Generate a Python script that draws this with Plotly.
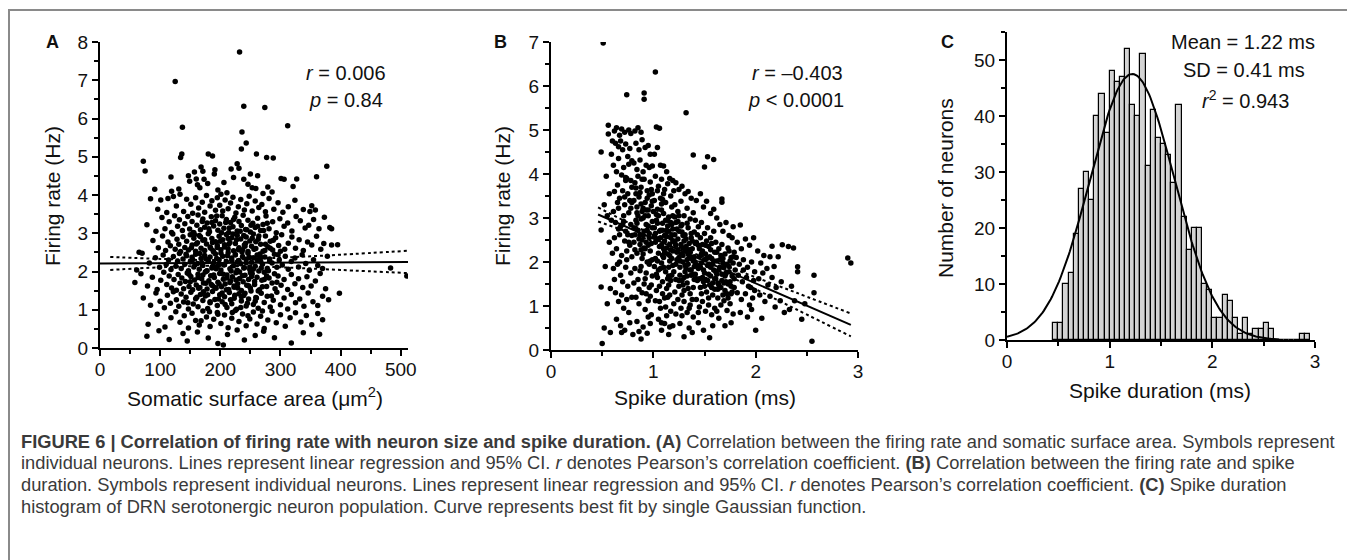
import numpy as np
import plotly.graph_objects as go

# ---------------- data ----------------
# Panel A: (somatic surface area um^2, firing rate Hz)
a_points = [
    (232,7.74),(125,6.97),(239,6.32),(274,6.29),(137,5.77),(312,5.81),(236,5.65),(243,5.36),(235,5.20),(260,5.07),
    (136,5.07),(134,4.98),(180,5.07),(187,5.02),(277,4.98),(288,4.97),(72,4.88),(75,4.63),(377,4.75),(360,4.48),
    (228,4.82),(231,4.70),(218,4.68),(168,4.73),(171,4.62),(157,4.60),(147,4.50),(191,4.66),(250,4.55),(262,4.50),
    (160,4.42),(91,4.15),(119,4.10),(131,4.16),(133,4.02),(149,4.36),(162,4.27),(166,4.19),(173,4.41),(179,4.30),
    (196,4.13),(201,4.02),(206,4.33),(222,4.46),(239,4.41),(246,4.28),(253,4.19),(259,4.17),(271,4.04),(279,4.21),
    (286,4.08),(301,4.43),(306,4.41),(321,4.22),(327,4.42),(211,4.06),(118,4.47),(190,4.55),
    (84,3.90),(101,3.87),(113,3.91),(96,3.63),(111,3.54),(122,3.96),(127,3.71),(139,3.57),(144,3.89),(151,3.76),
    (154,3.52),(159,3.93),(164,3.66),(170,3.81),(174,3.55),(177,3.99),(183,3.71),(186,3.85),(192,3.60),(195,3.93),
    (199,3.73),(204,3.58),(208,3.87),(213,3.64),(217,3.79),(221,3.94),(226,3.53),(230,3.69),(234,3.88),(240,3.61),
    (244,3.77),(248,3.97),(253,3.58),(258,3.84),(264,3.67),(269,3.75),(275,3.56),(281,3.91),(289,3.63),(296,3.80),
    (304,3.55),(313,3.69),(324,3.86),(338,3.62),(349,3.57),(358,3.61),(352,3.72),
    (78,3.22),(93,3.05),(103,3.41),(108,3.12),(115,3.30),(119,3.02),(124,3.46),(129,3.18),(132,3.35),(137,3.07),
    (141,3.25),(146,3.44),(149,3.11),(153,3.31),(156,3.01),(161,3.21),(163,3.48),(167,3.09),(171,3.37),(174,3.16),
    (178,3.27),(182,3.04),(185,3.43),(189,3.19),(192,3.33),(196,3.08),(199,3.24),(203,3.46),(206,3.13),(210,3.36),
    (214,3.02),(217,3.28),(221,3.17),(224,3.42),(228,3.06),(231,3.31),(235,3.20),(238,3.47),(242,3.10),(246,3.34),
    (250,3.03),(254,3.26),(258,3.15),(262,3.39),(267,3.07),(271,3.23),(276,3.45),(281,3.12),(287,3.30),(293,3.01),
    (299,3.38),(306,3.18),(312,3.27),(319,3.06),(326,3.44),(333,3.33),(341,3.14),(347,3.21),(355,3.36),(364,3.12),
    (373,3.42),(382,3.15),(385,3.12),
    (65,2.50),(88,2.81),(97,2.62),(104,2.93),(109,2.55),(113,2.77),(117,2.67),(121,2.98),(125,2.58),(128,2.84),
    (131,2.71),(134,2.52),(138,2.91),(141,2.63),(144,2.79),(147,2.56),(150,2.96),(153,2.69),(156,2.87),(159,2.53),
    (162,2.75),(165,2.94),(168,2.61),(171,2.82),(174,2.55),(177,2.72),(180,2.99),(183,2.64),(186,2.86),(189,2.51),
    (192,2.78),(195,2.68),(198,2.92),(201,2.57),(204,2.83),(207,2.70),(210,2.97),(213,2.59),(216,2.76),(219,2.88),
    (222,2.54),(225,2.73),(228,2.95),(231,2.62),(234,2.85),(237,2.57),(240,2.69),(243,2.90),(246,2.52),(249,2.80),
    (252,2.66),(255,2.98),(259,2.60),(263,2.84),(267,2.71),(271,2.53),(275,2.93),(279,2.65),(283,2.79),(287,2.56),
    (292,2.88),(297,2.68),(302,2.96),(307,2.58),(313,2.74),(319,2.90),(325,2.61),(331,2.83),(338,2.55),(345,2.77),
    (352,2.69),(360,2.92),(367,2.58),(385,2.69),(395,2.70),(372,2.73),
    (61,2.04),(70,2.48),(82,2.22),(92,2.36),(99,2.11),(105,2.43),(110,2.18),(114,2.30),(118,2.05),(122,2.39),
    (126,2.14),(129,2.27),(132,2.47),(135,2.08),(138,2.33),(141,2.19),(144,2.41),(147,2.02),(150,2.25),(153,2.37),
    (156,2.12),(159,2.45),(162,2.21),(165,2.06),(168,2.34),(171,2.16),(174,2.42),(177,2.01),(180,2.28),(183,2.38),
    (186,2.09),(189,2.23),(192,2.46),(195,2.13),(198,2.31),(201,2.04),(204,2.40),(207,2.18),(210,2.26),(213,2.49),
    (216,2.07),(219,2.35),(222,2.15),(225,2.44),(228,2.03),(231,2.29),(234,2.20),(237,2.39),(240,2.10),(243,2.32),
    (246,2.48),(249,2.05),(252,2.24),(255,2.36),(258,2.14),(261,2.43),(264,2.01),(267,2.27),(270,2.19),(274,2.38),
    (278,2.08),(282,2.33),(286,2.22),(290,2.45),(294,2.11),(298,2.30),(303,2.17),(308,2.40),(313,2.06),(318,2.26),
    (324,2.35),(330,2.12),(336,2.44),(342,2.21),(348,2.03),(355,2.31),(362,2.16),(370,2.08),(378,2.40),(483,2.09),
    (58,1.71),(68,1.94),(79,1.62),(87,1.85),(95,1.53),(101,1.77),(106,1.98),(111,1.66),(115,1.88),(119,1.57),
    (123,1.79),(127,1.51),(130,1.92),(133,1.69),(136,1.83),(139,1.55),(142,1.74),(145,1.96),(148,1.61),(151,1.87),
    (154,1.52),(157,1.78),(160,1.65),(163,1.93),(166,1.58),(169,1.81),(172,1.70),(175,1.99),(178,1.54),(181,1.76),
    (184,1.89),(187,1.63),(190,1.84),(193,1.56),(196,1.72),(199,1.95),(202,1.60),(205,1.80),(208,1.67),(211,1.91),
    (214,1.53),(217,1.75),(220,1.86),(223,1.59),(226,1.97),(229,1.68),(232,1.82),(235,1.50),(238,1.73),(241,1.90),
    (244,1.64),(247,1.79),(250,1.57),(253,1.94),(257,1.66),(261,1.85),(265,1.52),(269,1.77),(273,1.98),(277,1.61),
    (281,1.83),(286,1.70),(291,1.55),(296,1.88),(301,1.64),(306,1.79),(312,1.53),(318,1.92),(324,1.68),(330,1.81),
    (337,1.58),(344,1.86),(351,1.62),(358,1.75),(366,1.95),(375,1.55),(510,1.88),
    (72,1.31),(84,1.12),(93,1.44),(100,1.22),(107,1.05),(112,1.38),(117,1.17),(122,1.47),(127,1.26),(131,1.09),
    (135,1.41),(139,1.20),(143,1.33),(147,1.02),(151,1.46),(155,1.15),(159,1.29),(163,1.08),(167,1.40),(171,1.24),
    (175,1.36),(179,1.03),(183,1.18),(187,1.48),(191,1.27),(195,1.11),(199,1.39),(203,1.21),(207,1.34),(211,1.06),
    (215,1.45),(219,1.16),(223,1.30),(227,1.01),(231,1.42),(235,1.23),(239,1.37),(243,1.10),(247,1.28),(251,1.49),
    (255,1.14),(259,1.32),(263,1.04),(268,1.43),(273,1.19),(278,1.35),(283,1.07),(288,1.25),(294,1.46),(300,1.13),
    (306,1.31),(312,1.02),(318,1.40),(325,1.18),(332,1.28),(339,1.09),(346,1.44),(354,1.21),(362,1.11),(370,1.35),
    (398,1.43),(380,1.26),
    (80,0.62),(95,0.88),(108,0.55),(118,0.79),(126,0.95),(133,0.67),(140,0.84),(147,0.52),(153,0.91),(159,0.72),
    (165,0.60),(171,0.97),(177,0.81),(183,0.56),(189,0.75),(195,0.93),(201,0.64),(207,0.86),(213,0.53),(219,0.78),
    (225,0.98),(231,0.69),(237,0.89),(243,0.58),(249,0.76),(255,0.94),(261,0.63),(267,0.83),(273,0.51),(279,0.73),
    (286,0.96),(293,0.66),(300,0.87),(308,0.57),(316,0.79),(325,0.92),(334,0.68),(343,0.85),(352,0.61),(362,0.90),
    (370,0.74),
    (78,0.31),(98,0.45),(115,0.22),(138,0.38),(145,0.18),(162,0.42),(180,0.26),(196,0.12),(212,0.35),(228,0.47),
    (240,0.21),(258,0.33),(272,0.44),(290,0.27),(318,0.13),(338,0.40),(365,0.36),(205,0.08),
    # dense core
    (152,2.62),(158,2.18),(163,1.84),(167,2.91),(172,1.47),(176,2.33),(181,3.12),(185,1.66),(188,2.54),(193,2.07),
    (197,1.28),(200,2.79),(205,1.93),(209,3.28),(212,2.41),(216,1.71),(221,2.98),(224,1.38),(228,2.24),(233,3.05),
    (237,1.89),(241,2.66),(245,1.17),(249,2.12),(253,2.87),(257,1.74),(262,3.18),(266,2.46),(270,1.60),(275,2.71),
    (280,2.02),(285,1.36),(148,1.93),(155,3.02),(161,1.33),(166,2.47),(170,3.31),(178,2.02),(183,1.21),(187,2.76),
    (191,1.58),(194,3.45),(199,2.19),(203,1.44),(207,2.64),(211,1.83),(215,3.14),(219,2.29),(223,1.62),(227,2.83),
    (232,1.99),(236,2.51),(241,1.43),(244,3.09),(248,2.38),(252,1.87),(256,2.58),(260,1.31),(264,2.93),(268,2.09),
    (273,1.79),(278,3.26),(283,2.61),(290,1.94),(296,2.44),(143,2.45),(150,1.73),(157,2.96),(164,1.56),(169,2.22),
    (174,2.83),(179,1.39),(184,2.61),(189,1.91),(194,2.34),(198,1.67),(202,3.01),(206,2.17),(210,1.52),(214,2.71),
    (218,2.01),(222,3.36),(226,1.78),(230,2.57),(235,1.34),(239,2.94),(243,2.23),(247,1.63),(251,3.21),(255,2.06),
    (259,2.78),(263,1.49),(267,2.37),(272,3.07),(277,1.88),(282,2.27),(288,2.82),(294,1.72),(300,2.53),(146,1.18),
    (154,2.31),(160,2.72),(171,1.91),(186,3.28),(196,0.88),(208,1.14),(220,0.93),(234,1.06),(246,0.84),(258,1.22),
    (270,0.97),(182,0.95),(168,0.71),(229,1.57),(213,2.86),(239,2.09),(201,2.48),(176,1.69),(261,2.31),(250,1.97),
    (225,2.44),(195,2.63),(217,1.26),(242,2.74),(187,2.13),(274,2.55),
]
area_um2 = [p[0] for p in a_points]
rate_a_hz = [p[1] for p in a_points]

# Panel A regression line and 95% CI
a_fit_x = [0, 512]
a_fit_y = [2.21, 2.25]
a_ci_x = [17, 100, 190, 300, 400, 510]
a_ci_upper = [2.38, 2.33, 2.30, 2.36, 2.44, 2.54]
a_ci_lower = [2.04, 2.11, 2.15, 2.11, 2.04, 1.96]

# Panel B: (spike duration ms, firing rate Hz)
b_points = [
    (0.51,6.98),(0.49,4.50),(0.56,5.11),(0.56,4.91),(0.49,1.43),(0.49,2.73),(0.50,0.15),(0.52,0.50),(0.54,3.95),(0.55,3.05),
    (0.57,2.45),(0.58,1.40),(0.53,1.90),(0.59,4.45),(0.57,3.55),(0.59,2.95),(0.55,1.05),(0.58,0.40),(0.60,4.75),(0.60,2.20),
    (0.52,3.30),
    (0.74,5.80),(0.62,4.98),(0.64,5.05),(0.67,4.88),(0.69,5.02),(0.72,4.95),(0.76,5.00),(0.78,4.92),(0.63,4.70),(0.66,4.62),
    (0.68,4.75),(0.70,4.55),(0.73,4.68),(0.75,4.40),(0.77,4.58),(0.79,4.30),(0.61,4.20),(0.64,4.05),(0.66,4.35),(0.69,3.98),
    (0.71,4.15),(0.74,3.90),(0.76,4.22),(0.78,3.85),(0.62,3.60),(0.65,3.75),(0.67,3.45),(0.70,3.62),(0.72,3.30),(0.75,3.55),
    (0.77,3.40),(0.79,3.70),(0.61,3.15),(0.63,2.90),(0.66,3.22),(0.68,2.80),(0.71,3.05),(0.73,2.70),(0.76,3.12),(0.78,2.85),
    (0.62,2.55),(0.64,2.30),(0.67,2.62),(0.69,2.15),(0.72,2.48),(0.74,2.05),(0.77,2.38),(0.79,2.60),(0.61,1.85),(0.65,1.95),
    (0.68,1.70),(0.70,1.55),(0.73,1.88),(0.75,1.45),(0.78,1.75),(0.63,1.30),(0.66,1.10),(0.69,1.25),(0.71,0.95),(0.74,1.15),
    (0.76,0.85),(0.79,1.20),(0.64,0.70),(0.68,0.55),(0.72,0.45),(0.77,0.62),(0.80,0.35),(0.65,3.35),(0.71,2.92),(0.74,2.25),
    (0.67,2.00),(0.79,2.12),(0.62,1.60),(0.73,3.85),(0.66,2.75),
    (0.91,5.84),(0.91,5.70),(0.82,4.98),(0.85,5.05),(0.88,4.95),(0.83,4.70),(0.86,4.55),(0.89,4.78),(0.92,4.60),(0.95,4.65),
    (0.97,4.45),(0.81,4.25),(0.84,4.10),(0.87,4.32),(0.90,4.05),(0.93,4.20),(0.96,4.15),(0.99,4.18),(0.82,3.80),(0.85,3.95),
    (0.88,3.70),(0.91,3.88),(0.94,3.62),(0.97,3.82),(0.99,3.55),(0.81,3.40),(0.84,3.25),(0.86,3.48),(0.89,3.15),(0.92,3.35),
    (0.95,3.05),(0.98,3.28),(0.83,2.95),(0.85,2.72),(0.88,2.98),(0.90,2.60),(0.93,2.85),(0.96,2.55),(0.99,2.78),(0.81,2.45),
    (0.84,2.20),(0.87,2.40),(0.89,2.08),(0.92,2.30),(0.94,2.00),(0.97,2.25),(0.82,1.85),(0.85,1.60),(0.88,1.90),(0.91,1.50),
    (0.93,1.75),(0.96,1.42),(0.99,1.68),(0.83,1.20),(0.86,1.05),(0.89,1.30),(0.92,0.92),(0.95,1.12),(0.98,0.80),(0.84,0.65),
    (0.88,0.25),(0.90,0.52),(0.94,0.38),(0.97,0.60),(0.87,3.58),(0.90,3.22),(0.93,2.45),(0.96,1.95),(0.99,2.92),(0.82,2.62),
    (0.86,1.38),(0.91,2.70),(0.94,3.45),(0.97,1.22),(0.85,3.05),(0.88,2.28),(0.92,1.62),(0.95,2.38),(0.98,3.65),(0.81,1.52),
    (0.84,2.88),(0.87,1.80),(0.90,3.00),(0.93,1.28),(0.96,2.65),(0.99,2.05),(0.83,3.55),(0.89,2.50),(0.95,3.18),(0.98,1.48),
    (1.02,6.32),(1.03,5.07),(1.06,5.04),(1.01,4.45),(1.04,4.60),(1.07,4.20),(1.10,4.18),(1.13,4.05),(1.16,3.90),(1.19,3.85),
    (1.02,3.95),(1.05,3.72),(1.08,3.88),(1.11,3.65),(1.14,3.78),(1.17,3.50),(1.20,3.62),(1.01,3.40),(1.04,3.20),(1.07,3.45),
    (1.10,3.10),(1.12,3.35),(1.15,3.02),(1.18,3.25),(1.03,2.95),(1.06,2.70),(1.09,2.88),(1.11,2.60),(1.14,2.82),(1.17,2.55),
    (1.19,2.75),(1.02,2.45),(1.05,2.20),(1.08,2.38),(1.10,2.10),(1.13,2.32),(1.16,2.02),(1.19,2.25),(1.01,1.90),(1.04,1.65),
    (1.07,1.85),(1.09,1.55),(1.12,1.78),(1.15,1.48),(1.18,1.70),(1.03,1.35),(1.06,1.10),(1.09,1.28),(1.12,0.98),(1.14,1.20),
    (1.17,0.88),(1.20,1.05),(1.05,0.70),(1.08,0.45),(1.11,0.60),(1.15,0.35),(1.19,0.55),(1.02,2.65),(1.05,3.05),(1.08,1.98),
    (1.11,2.48),(1.14,1.62),(1.17,2.90),(1.04,2.02),(1.07,2.55),(1.10,3.55),(1.13,1.40),(1.16,2.40),(1.19,1.92),(1.01,2.78),
    (1.06,1.45),(1.09,2.15),(1.12,2.95),(1.15,1.88),(1.18,2.62),(1.03,1.72),(1.08,3.18),(1.11,1.18),(1.14,2.18),(1.17,1.58),
    (1.20,2.48),(1.02,1.12),(1.05,2.52),(1.09,2.72),(1.13,2.58),(1.16,1.25),(1.19,3.05),(1.04,3.62),(1.10,2.30),(1.15,2.70),
    (1.18,2.08),(1.07,0.95),(1.13,0.78),
    (1.32,5.39),(1.39,4.43),(1.22,3.80),(1.25,3.65),(1.28,3.72),(1.31,3.55),(1.34,3.60),(1.37,3.45),(1.21,3.30),(1.24,3.15),
    (1.27,3.38),(1.30,3.05),(1.33,3.22),(1.36,2.98),(1.39,3.12),(1.22,2.90),(1.25,2.70),(1.28,2.85),(1.31,2.62),(1.34,2.78),
    (1.37,2.55),(1.40,2.68),(1.21,2.45),(1.24,2.28),(1.27,2.40),(1.29,2.15),(1.32,2.35),(1.35,2.10),(1.38,2.30),(1.23,2.05),
    (1.26,1.88),(1.29,2.00),(1.31,1.78),(1.34,1.95),(1.37,1.70),(1.40,1.90),(1.22,1.60),(1.25,1.45),(1.28,1.58),(1.30,1.35),
    (1.33,1.52),(1.36,1.28),(1.39,1.42),(1.24,1.15),(1.27,0.95),(1.30,1.10),(1.33,0.85),(1.36,1.02),(1.39,0.75),(1.26,0.60),
    (1.30,0.30),(1.35,0.50),(1.38,0.40),(1.21,2.62),(1.24,2.52),(1.27,2.18),(1.30,2.48),(1.33,1.68),(1.36,2.22),(1.39,2.02),
    (1.22,1.95),(1.25,2.10),(1.28,1.25),(1.31,2.25),(1.34,1.40),(1.37,1.82),(1.23,2.75),(1.26,1.70),(1.29,2.60),(1.32,1.85),
    (1.35,2.42),(1.38,1.15),(1.21,1.32),(1.25,3.05),(1.29,1.48),(1.33,2.05),(1.37,2.65),(1.40,1.60),(1.28,0.78),(1.35,0.95),
    (1.53,4.39),(1.59,4.33),(1.50,4.16),(1.42,3.40),(1.46,3.55),(1.49,3.25),(1.52,3.38),(1.56,3.10),(1.59,3.20),(1.41,2.95),
    (1.44,2.80),(1.47,2.90),(1.50,2.65),(1.53,2.78),(1.56,2.55),(1.59,2.70),(1.42,2.45),(1.45,2.30),(1.48,2.40),(1.51,2.18),
    (1.54,2.35),(1.57,2.08),(1.60,2.22),(1.41,2.00),(1.44,1.85),(1.47,1.98),(1.50,1.75),(1.53,1.92),(1.56,1.68),(1.59,1.82),
    (1.43,1.58),(1.46,1.42),(1.49,1.55),(1.52,1.32),(1.55,1.48),(1.58,1.25),(1.42,1.15),(1.45,0.98),(1.48,1.10),(1.51,0.88),
    (1.54,1.02),(1.57,0.80),(1.60,0.95),(1.44,0.62),(1.49,0.45),(1.55,0.28),(1.58,0.55),(1.41,1.72),(1.45,2.12),(1.48,1.65),
    (1.52,2.48),(1.55,1.95),(1.58,1.52),(1.43,2.62),(1.47,1.28),(1.51,1.60),(1.54,1.18),(1.57,2.42),(1.60,1.38),(1.46,2.55),
    (1.50,2.05),(1.56,1.88),
    (1.67,3.43),(1.67,3.36),(1.78,2.80),(1.62,3.00),(1.65,2.85),(1.68,2.70),(1.71,2.90),(1.74,2.60),(1.77,2.55),(1.61,2.45),
    (1.64,2.30),(1.67,2.40),(1.70,2.18),(1.73,2.32),(1.76,2.10),(1.79,2.22),(1.62,2.02),(1.65,1.88),(1.68,1.98),(1.71,1.75),
    (1.74,1.90),(1.77,1.68),(1.80,1.82),(1.61,1.62),(1.64,1.48),(1.67,1.58),(1.70,1.35),(1.73,1.50),(1.76,1.28),(1.79,1.42),
    (1.63,1.18),(1.66,1.02),(1.69,1.12),(1.72,0.90),(1.75,1.05),(1.78,0.82),(1.64,0.72),(1.70,0.55),(1.76,0.62),(1.62,1.72),
    (1.66,2.15),(1.69,1.52),(1.72,1.95),(1.75,1.55),(1.78,1.98),(1.63,1.38),(1.68,1.25),(1.74,2.25),
    (1.85,2.84),(1.82,2.45),(1.86,2.30),(1.90,2.52),(1.94,2.38),(1.98,2.55),(1.81,2.10),(1.84,1.95),(1.88,2.05),(1.92,1.88),
    (1.96,2.00),(1.99,1.78),(1.83,1.70),(1.87,1.55),(1.91,1.65),(1.95,1.42),(1.98,1.58),(1.82,1.30),(1.86,1.15),(1.90,1.28),
    (1.94,1.02),(1.97,1.18),(1.85,0.85),(1.92,0.75),(1.96,0.92),(1.88,1.82),(1.93,1.45),(1.99,1.35),
    (2.26,2.39),(2.16,2.36),(2.14,2.12),(2.22,2.12),(2.02,2.25),(2.05,1.98),(2.08,2.15),(2.11,1.85),(2.18,1.90),(2.03,1.62),
    (2.07,1.75),(2.12,1.48),(2.16,1.65),(2.20,1.42),(2.25,1.55),(2.04,1.25),(2.09,1.10),(2.14,1.22),(2.19,0.98),(2.24,1.12),
    (2.00,0.45),(2.28,0.85),(2.06,0.72),
    (2.32,2.35),(2.37,2.32),(2.41,1.89),(2.41,1.78),(2.57,1.70),(2.57,1.30),(2.90,2.09),(2.93,1.98),(2.35,1.45),(2.45,0.70),
    (2.55,0.20),(2.38,1.12),(2.48,1.05),(2.33,0.92),
    # dense diagonal core
    (0.72,3.48),(0.75,2.62),(0.78,3.22),(0.81,2.78),(0.83,3.68),(0.86,2.52),(0.88,3.32),(0.90,2.18),(0.92,3.05),(0.94,2.72),
    (0.96,3.52),(0.98,2.42),(1.00,3.15),(1.02,2.08),(1.04,2.88),(1.06,2.35),(1.08,3.32),(1.10,1.88),(1.12,2.62),(1.14,2.95),
    (1.16,2.15),(1.18,2.85),(1.20,1.78),(1.22,2.38),(1.24,2.92),(1.26,2.02),(1.28,2.68),(1.30,1.65),(1.32,2.52),(1.34,2.18),
    (1.36,1.82),(1.38,2.48),(1.40,2.12),(1.42,1.62),(1.44,2.38),(1.46,1.88),(1.48,2.25),(1.50,1.45),(1.52,2.08),(1.54,1.72),
    (1.56,2.28),(1.58,1.95),(1.60,1.62),(1.62,2.22),(1.64,1.82),(1.66,1.42),(1.68,2.08),(1.70,1.68),(1.72,1.28),(1.74,1.78),
    (1.76,1.45),(1.78,2.12),(0.70,2.85),(0.73,3.92),(0.76,2.45),(0.79,3.35),(0.82,2.28),(0.84,3.12),(0.87,2.62),(0.89,3.88),
    (0.91,2.32),(0.93,3.18),(0.95,2.82),(0.97,2.02),(0.99,3.38),(1.01,2.58),(1.03,3.08),(1.05,1.82),(1.07,2.72),(1.09,3.42),
    (1.11,2.22),(1.13,2.72),(1.15,1.68),(1.17,2.28),(1.19,2.48),(1.21,3.02),(1.23,2.22),(1.25,1.58),(1.27,2.82),(1.29,2.32),
    (1.31,1.92),(1.33,2.88),(1.35,2.28),(1.37,2.08),(1.39,1.72),(1.41,2.42),(1.43,1.92),(1.45,1.62),(1.47,2.18),(1.49,1.82),
    (1.51,2.38),(1.53,1.58),(1.55,2.12),(1.57,1.42),(1.59,2.02),(1.61,1.78),(1.63,1.52),(1.65,2.05),(1.67,1.72),(1.69,1.88),
    (1.71,1.55),(1.73,1.18),(1.75,2.02),(1.77,1.32),(1.79,1.62),(1.08,0.62),(1.22,0.82),(0.86,0.42),(0.95,0.75),(1.44,0.85),
    (1.62,0.88),(0.69,0.40),(1.16,0.52),
]
spike_ms = [p[0] for p in b_points]
rate_b_hz = [p[1] for p in b_points]

# Panel B regression line and 95% CI
b_fit_x = [0.46, 2.93]
b_fit_y = [3.08, 0.57]
b_ci_x = [0.46, 0.8, 1.25, 1.8, 2.4, 2.93]
b_ci_upper = [3.24, 2.84, 2.34, 1.83, 1.30, 0.83]
b_ci_lower = [2.92, 2.64, 2.22, 1.61, 0.92, 0.31]

# Panel C: histogram (bins of 0.05 ms starting at 0.45 ms)
hist_bin_start = 0.45
hist_bin_width = 0.05
hist_counts = [3, 3, 10, 12, 19, 27, 30, 25, 40, 44,
               37, 48, 46, 47, 52, 42, 40, 51, 31, 41,
               36, 35, 33, 28, 42, 22, 16, 20, 20, 10,
               9, 4, 4, 8, 7, 4, 1, 4, 1, 2,
               2, 3, 2, 0, 0, 0, 0, 0, 1, 1]
# Gaussian fit parameters (from figure)
FIT_MEAN = 1.22
FIT_SD = 0.41
FIT_AMP = 47.5

# ---------------- layout helpers ----------------
# The page body has an 8px margin, so the figure is sized to fill the rest
# of the 1355x560 window; helpers take window-pixel positions.
PAGE_OFF = 8
W, H = 1355 - PAGE_OFF, 560 - PAGE_OFF
FONT = "Liberation Sans, Arial, Helvetica, sans-serif"


def fx(px):
    return (px - PAGE_OFF) / W


def fy(py):
    return 1 - (py - PAGE_OFF) / H


fig = go.Figure()

# Panel A
fig.add_trace(go.Scatter(x=area_um2, y=rate_a_hz, mode="markers", xaxis="x", yaxis="y",
                         marker=dict(color="black", size=5.5), showlegend=False))
fig.add_trace(go.Scatter(x=a_fit_x, y=a_fit_y, mode="lines", xaxis="x", yaxis="y",
                         line=dict(color="black", width=2), showlegend=False))
for ci in (a_ci_upper, a_ci_lower):
    fig.add_trace(go.Scatter(x=a_ci_x, y=ci, mode="lines", xaxis="x", yaxis="y",
                             line=dict(color="black", width=2, dash="dot", shape="spline"),
                             showlegend=False))

# Panel B
fig.add_trace(go.Scatter(x=spike_ms, y=rate_b_hz, mode="markers", xaxis="x2", yaxis="y2",
                         marker=dict(color="black", size=5.5), showlegend=False))
fig.add_trace(go.Scatter(x=b_fit_x, y=b_fit_y, mode="lines", xaxis="x2", yaxis="y2",
                         line=dict(color="black", width=2), showlegend=False))
for ci in (b_ci_upper, b_ci_lower):
    fig.add_trace(go.Scatter(x=b_ci_x, y=ci, mode="lines", xaxis="x2", yaxis="y2",
                             line=dict(color="black", width=2, dash="dot", shape="spline"),
                             showlegend=False))

# Panel C
bin_centers = hist_bin_start + hist_bin_width * (np.arange(len(hist_counts)) + 0.5)
fig.add_trace(go.Bar(x=bin_centers, y=hist_counts, width=hist_bin_width, xaxis="x3", yaxis="y3",
                     marker=dict(color="#d4d4d4", line=dict(color="black", width=1.2)),
                     showlegend=False))
gx = np.linspace(0, 2.65, 200)
gy = FIT_AMP * np.exp(-((gx - FIT_MEAN) ** 2) / (2 * FIT_SD ** 2))
fig.add_trace(go.Scatter(x=gx, y=gy, mode="lines", xaxis="x3", yaxis="y3",
                         line=dict(color="black", width=2), showlegend=False))


def axis_style(rng, dtick, minor_dtick, domain, anchor, labelside):
    d = dict(range=rng, domain=domain, anchor=anchor, showline=True, linecolor="black",
             linewidth=2, ticks="outside", ticklen=6, tickwidth=2, tickcolor="black",
             showgrid=False, zeroline=False, dtick=dtick, tick0=0, automargin=False,
             tickfont=dict(family=FONT, size=19, color="#111"),
             minor=dict(ticks="outside", ticklen=4, tickwidth=1.5, tickcolor="black",
                        dtick=minor_dtick, tick0=0, showgrid=False),
             fixedrange=True)
    if labelside == "x":
        d["ticklabelstandoff"] = -3
    return d


fig.update_layout(
    width=W, height=H, margin=dict(l=0, r=0, t=0, b=0, pad=0), autosize=False,
    paper_bgcolor="white", plot_bgcolor="white",
    bargap=0,
    font=dict(family=FONT, color="#111"),
    xaxis=axis_style([0, 512], 100, 50, [fx(100), fx(408)], "y", "x"),
    yaxis=axis_style([0, 8], 1, 0.5, [fy(348), fy(42)], "x", "y"),
    xaxis2=axis_style([0, 3], 1, 0.5, [fx(551), fx(858)], "y2", "x"),
    yaxis2=axis_style([0, 7], 1, 0.5, [fy(350), fy(42)], "x2", "y"),
    xaxis3=axis_style([0, 3], 1, 0.5, [fx(1007), fx(1315)], "y3", "x"),
    yaxis3=axis_style([0, 55], 10, 5, [fy(340), fy(32)], "x3", "y"),
)

ann = []


def add_text(text, x, y, size, xanchor="center", yanchor="middle", angle=0, color="#111"):
    ann.append(dict(text=text, x=fx(x), y=fy(y), xref="paper", yref="paper",
                    xanchor=xanchor, yanchor=yanchor, showarrow=False, textangle=angle,
                    font=dict(family=FONT, size=size, color=color)))


# panel letters
add_text("<b>A</b>", 52, 42, 18)
add_text("<b>B</b>", 500, 42, 18)
add_text("<b>C</b>", 947, 42, 18)
# stats
add_text("<i>r</i> = 0.006", 346, 73, 20)
add_text("<i>p</i> = 0.84", 346, 100, 20)
add_text("<i>r</i> = \u20130.403", 797, 73, 20)
add_text("<i>p</i> < 0.0001", 796, 100, 20)
add_text("Mean = 1.22 ms", 1243, 42, 20)
add_text("SD = 0.41 ms", 1244, 70, 20)
add_text("<i>r</i><sup>2</sup> = 0.943", 1245, 100, 20)
# axis titles
add_text("Firing rate (Hz)", 53, 196, 21, angle=-90)
add_text("Firing rate (Hz)", 503, 196, 21, angle=-90)
add_text("Number of neurons", 945, 188, 21, angle=-90)
add_text("Somatic surface area (\u03bcm<sup>2</sup>)", 255, 397, 21)
add_text("Spike duration (ms)", 705, 397, 21)
add_text("Spike duration (ms)", 1160, 390, 21)

# caption
cap_color = "#3a3a3a"
cap_lines = [
    "<b>FIGURE 6 | Correlation of firing rate with neuron size and spike duration. (A)</b> Correlation between the firing rate and somatic surface area. Symbols represent",
    "individual neurons. Lines represent linear regression and 95% CI. <i>r</i> denotes Pearson\u2019s correlation coefficient. <b>(B)</b> Correlation between the firing rate and spike",
    "duration. Symbols represent individual neurons. Lines represent linear regression and 95% CI. <i>r</i> denotes Pearson\u2019s correlation coefficient. <b>(C)</b> Spike duration",
    "histogram of DRN serotonergic neuron population. Curve represents best fit by single Gaussian function.",
]
for i, line in enumerate(cap_lines):
    add_text(line, 19, 441 + 21.7 * i, 18.3, xanchor="left", color=cap_color)

fig.update_layout(annotations=ann)

# outer frame
fig.add_shape(type="rect", xref="paper", yref="paper", x0=fx(9), x1=fx(1349), y0=fy(10), y1=fy(580),
              line=dict(color="#8a8a8a", width=2), fillcolor="rgba(0,0,0,0)", layer="above")

fig.write_html("out.html")
